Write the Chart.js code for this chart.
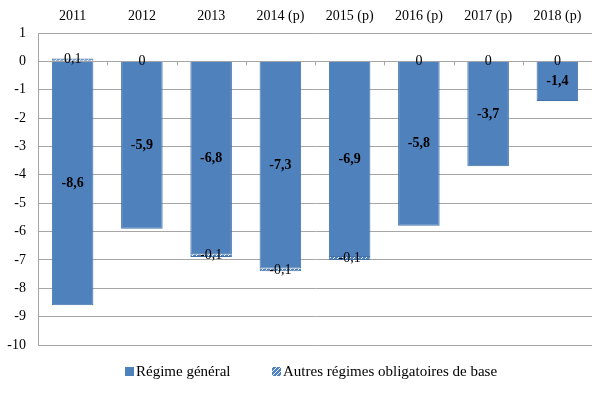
<!DOCTYPE html>
<html>
<head>
<meta charset="utf-8">
<script src="https://cdn.jsdelivr.net/npm/chart.js@4"></script>
<style>
  body { margin: 0; background: #fff; }
  #wrap { width: 608px; height: 394px; }
</style>
</head>
<body>
<div id="wrap"><canvas id="soldeChart" width="608" height="394"></canvas></div>
<script>
// Data
const years = ['2011', '2012', '2013', '2014 (p)', '2015 (p)', '2016 (p)', '2017 (p)', '2018 (p)'];
const regimeGeneral = [-8.6, -5.9, -6.8, -7.3, -6.9, -5.8, -3.7, -1.4];
const autresRegimes = [0.1, 0, -0.1, -0.1, -0.1, 0, 0, 0];
const yTicks = [1, 0, -1, -2, -3, -4, -5, -6, -7, -8, -9, -10];

const BLUE = '#4F81BD';
const EDGE = '#4372AA';
const FONT = '"Liberation Serif", "DejaVu Serif", serif';

// Hatched fill for the second series
function makeHatch() {
    const c = document.createElement('canvas');
    c.width = 4; c.height = 4;
    const g = c.getContext('2d');
    g.fillStyle = BLUE;
    g.fillRect(0, 0, 4, 4);
    g.strokeStyle = 'rgba(255,255,255,0.9)';
    g.lineWidth = 1;
    g.beginPath();
    g.moveTo(0, 4); g.lineTo(4, 0);
    g.moveTo(-1, 1); g.lineTo(1, -1);
    g.moveTo(3, 5); g.lineTo(5, 3);
    g.stroke();
    return g.createPattern(c, 'repeat');
}
const hatch = makeHatch();

function fmt(v) {
    return String(v).replace('.', ',');
}

// Value labels drawn on the bars
const barLabels = {
    id: 'barLabels',
    afterDatasetsDraw(chart) {
        const ctx = chart.ctx;
        const y0 = chart.scales.y.getPixelForValue(0);
        ctx.save();
        ctx.fillStyle = '#000';
        ctx.textAlign = 'center';
        ctx.textBaseline = 'middle';
        chart.data.datasets.forEach(function(ds, i) {
            const meta = chart.getDatasetMeta(i);
            ctx.font = (i === 0 ? 'bold ' : '') + '14px ' + FONT;
            meta.data.forEach(function(bar, j) {
                const v = ds.data[j];
                const mid = v === 0 ? y0 : (bar.y + bar.base) / 2;
                ctx.fillText(fmt(v), bar.x, mid);
            });
        });
        ctx.restore();
    }
};

// Small tick marks on the zero line between categories
const zeroTicks = {
    id: 'zeroTicks',
    afterDatasetsDraw(chart) {
        const ctx = chart.ctx;
        const x = chart.scales.x;
        const y0 = chart.scales.y.getPixelForValue(0);
        const step = (x.right - x.left) / years.length;
        ctx.save();
        ctx.strokeStyle = '#a6a6a6';
        ctx.lineWidth = 1;
        ctx.beginPath();
        for (let k = 1; k < years.length; k++) {
            const px = Math.round(x.left + k * step) + 0.5;
            ctx.moveTo(px, y0);
            ctx.lineTo(px, y0 + 4);
        }
        ctx.stroke();
        ctx.restore();
    }
};

// Legend under the plot
const bottomLegend = {
    id: 'bottomLegend',
    afterDraw(chart) {
        const ctx = chart.ctx;
        const items = [
            { x: 125, text: chart.data.datasets[0].label, fill: BLUE },
            { x: 272, text: chart.data.datasets[1].label, fill: hatch }
        ];
        const y = 371;
        ctx.save();
        ctx.font = '15px ' + FONT;
        ctx.textBaseline = 'middle';
        items.forEach(function(it) {
            ctx.fillStyle = it.fill;
            ctx.fillRect(it.x, y - 4, 9, 9);
            ctx.fillStyle = '#000';
            ctx.fillText(it.text, it.x + 11, y + 1);
        });
        ctx.restore();
    }
};

new Chart(document.getElementById('soldeChart'), {
    type: 'bar',
    data: {
        labels: years,
        datasets: [{
            label: 'Régime général',
            data: regimeGeneral,
            backgroundColor: BLUE,
            borderColor: EDGE,
            borderWidth: 1,
            categoryPercentage: 0.6,
            barPercentage: 1
        }, {
            label: 'Autres régimes obligatoires de base',
            data: autresRegimes,
            backgroundColor: hatch,
            borderColor: EDGE,
            borderWidth: function(c) { return c.raw === 0 ? 0 : 1; },
            categoryPercentage: 0.6,
            barPercentage: 1
        }]
    },
    options: {
        responsive: false,
        animation: false,
        layout: { padding: { top: 0, right: 16, bottom: 49, left: 0 } },
        scales: {
            x: {
                position: 'top',
                stacked: true,
                grid: { display: false, drawTicks: false },
                border: { display: false },
                ticks: { color: '#000', font: { family: FONT, size: 14 }, padding: 8 },
                afterFit: function(s) { s.height = 33; }
            },
            y: {
                stacked: true,
                min: -10,
                max: 1,
                afterBuildTicks: function(s) { s.ticks = yTicks.map(v => ({ value: v })); },
                grid: { color: '#a6a6a6', drawTicks: false },
                border: { color: '#a6a6a6' },
                ticks: { color: '#000', font: { family: FONT, size: 14 }, padding: 12 },
                afterFit: function(s) { s.width = 38; }
            }
        },
        plugins: {
            legend: { display: false },
            tooltip: { enabled: false }
        }
    },
    plugins: [barLabels, zeroTicks, bottomLegend]
});
</script>
</body>
</html>
